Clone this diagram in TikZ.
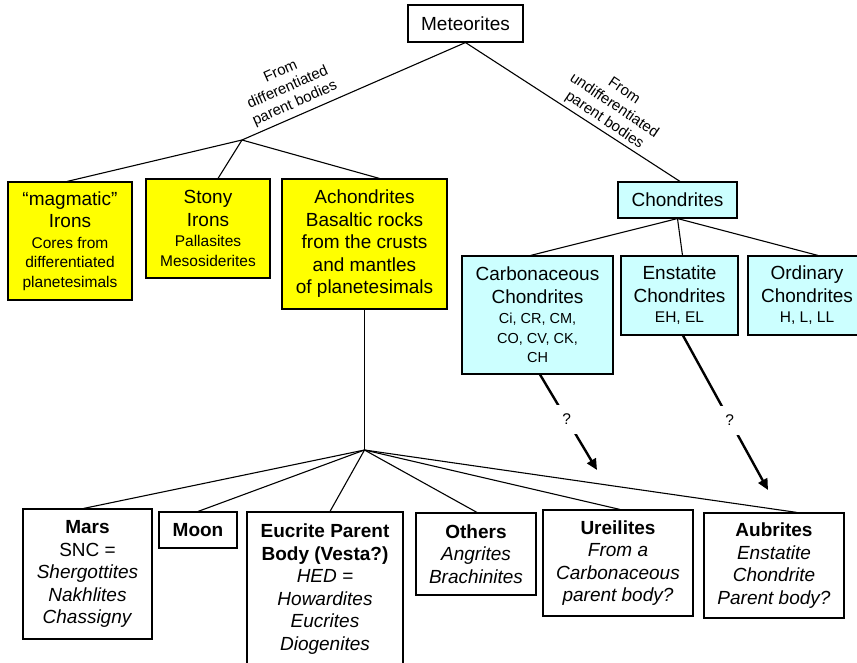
\documentclass[tikz,border=0pt]{standalone}
\usepackage{fontspec}
\setmainfont{Liberation Sans}
\usetikzlibrary{arrows.meta}
\definecolor{boxyellow}{RGB}{255,255,0}
\definecolor{boxcyan}{RGB}{204,255,255}
\newcommand\bigf{\fontsize{19}{22.5}\selectfont}
\newcommand\smf{\fontsize{15.5}{19}\selectfont}
\newcommand\tnf{\fontsize{14.5}{19}\selectfont}

\begin{document}
\begin{tikzpicture}[x=1pt,y=-1pt,
  box/.style 2 args={draw,line width=1.1pt,align=center,font=\bigf,inner sep=2pt,minimum width=#1pt,minimum height=#2pt},
  ybox/.style 2 args={box={#1}{#2},fill=boxyellow},
  cbox/.style 2 args={box={#1}{#2},fill=boxcyan},
  link/.style={line width=1.1pt},
  qarrow/.style={line width=2.4pt,-{Triangle[length=11pt,width=10pt]}},
  qmark/.style={fill=white,inner sep=9pt,font=\smf},
  lbl/.style={align=center,font=\fontsize{15}{17.5}\selectfont,inner sep=0pt}]
\useasboundingbox (0,0) rectangle (857,663);
% top
\node[box={115}{37}] (met) at (465.5,23.5) {Meteorites};
\node[ybox={124}{118}] (irons) at (70,241) {“magmatic”\\Irons\\[-2pt]{\smf Cores from}\\[-3pt]{\smf differentiated}\\[-3pt]{\smf planetesimals}};
\node[ybox={124}{99}] (stony) at (208,228.5) {Stony\\Irons\\[-2pt]{\smf Pallasites}\\[-3pt]{\smf Mesosiderites}};
\node[ybox={165}{130}] (achon) at (364.5,244) {Achondrites\\Basaltic rocks\\from the crusts\\and mantles\\of planetesimals};
\node[cbox={119}{36}] (chon) at (677.5,200) {Chondrites};
\node[cbox={151}{118}] (carb) at (537.5,315) {Carbonaceous\\Chondrites\\[-2pt]{\tnf Ci, CR, CM,}\\[-3pt]{\tnf CO, CV, CK,}\\[-3pt]{\tnf CH}};
\node[cbox={117}{79}] (enst) at (679.5,295.5) {Enstatite\\Chondrites\\[-2pt]{\smf EH, EL}};
\node[cbox={118}{79}] (ordi) at (807,295.5) {Ordinary\\Chondrites\\[-2pt]{\smf H, L, LL}};
% bottom
\node[box={129}{130}] (mars) at (87.5,574) {\textbf{Mars}\\SNC =\\\textit{Shergottites}\\\textit{Nakhlites}\\\textit{Chassigny}};
\node[box={78}{36}] (moon) at (198,530) {\textbf{Moon}};
\node[box={156}{154}] (euc) at (325,589) {\textbf{Eucrite Parent}\\\textbf{Body (Vesta?)}\\\textit{HED =}\\\textit{Howardites}\\\textit{Eucrites}\\\textit{Diogenites}};
\node[box={120}{82}] (othr) at (476,554) {\textbf{Others}\\\textit{Angrites}\\\textit{Brachinites}};
\node[box={150}{106}] (ureil) at (618,563) {\textbf{Ureilites}\\\textit{From a}\\\textit{Carbonaceous}\\\textit{parent body?}};
\node[box={140}{105}] (aubr) at (774,565.5) {\textbf{Aubrites}\\\textit{Enstatite}\\\textit{Chondrite}\\\textit{Parent body?}};
% links
\coordinate (jd) at (242,140);
\coordinate (ja) at (364.5,450);
\draw[link] (met.south) -- (jd);
\draw[link] (met.south) -- ([xshift=2.5pt]chon.north);
\foreach \n/\s in {irons/-3,stony/10,achon/15} {
   \draw[link] (jd) -- ([xshift=\s pt]\n.north);
}
\foreach \n/\s in {carb/-7,enst/3,ordi/11} {
   \draw[link] (chon.south) -- ([xshift=\s pt]\n.north);
}
\draw[link] (achon.south) -- (ja);
\foreach \n/\s in {mars/-4,moon/0,euc/5,othr/1,ureil/2,aubr/23} {
   \draw[link] (ja) -- ([xshift=\s pt]\n.north);
}
\node[lbl,rotate=24] (ldiff) at (288,88) {From\\differentiated\\parent bodies};
\node[lbl,rotate=-34] (lundiff) at (614,106) {From\\undifferentiated\\parent bodies};
% ? arrows
\coordinate (tipu) at (597,470);
\coordinate (tipa) at (768,490);
\draw[qarrow] ([xshift=2.5pt]carb.south) -- node[pos=0.47,qmark] (qu) {?} (tipu);
\draw[qarrow] ([xshift=3.5pt]enst.south) -- node[pos=0.55,qmark] (qa) {?} (tipa);
\end{tikzpicture}
\end{document}
